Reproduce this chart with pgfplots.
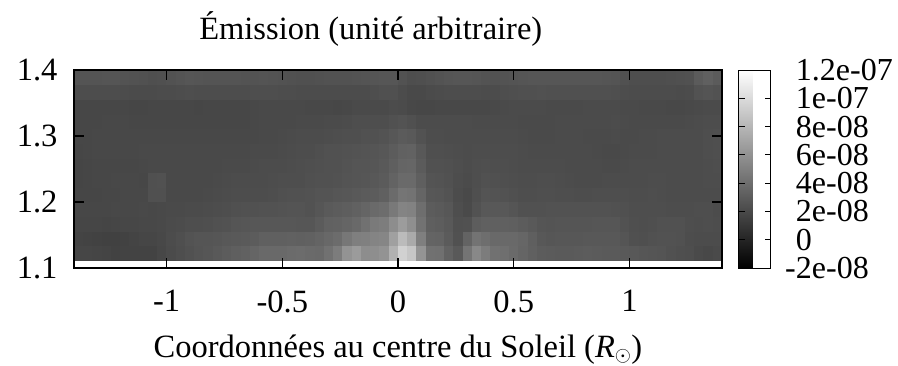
\documentclass[border=0pt]{standalone}
\usepackage{fontspec}
\setmainfont{Liberation Serif}
\usepackage{pgfplots}
\pgfplotsset{compat=1.18}
\begin{document}
\begin{tikzpicture}[x=1pt,y=1pt]
\path[use as bounding box] (-74pt,-97pt) rectangle (824pt,268pt);
\begin{axis}[
  at={(0pt,0pt)},anchor=south west,
  scale only axis,width=648pt,height=198pt,
  xmin=-1.4,xmax=1.4,ymin=1.1,ymax=1.4,
  axis on top,
  axis line style={line width=1.4pt},
  tick style={line width=1.1pt,black},
  major tick length=10pt,
  tick align=inside,
  xtick={-1,-0.5,0,0.5,1},
  xticklabels={-1,-0.5,0,0.5,1},
  ytick={1.1,1.2,1.3,1.4},
  yticklabels={1.1,1.2,1.3,1.4},
  tick label style={font=\fontsize{32.5}{32.5}\selectfont},
  xticklabel style={yshift=-19pt},
  yticklabel style={xshift=-13pt},
  label style={font=\fontsize{32.5}{32.5}\selectfont},
  title style={font=\fontsize{32.5}{32.5}\selectfont},
  title={Émission (unité arbitraire)},
  title style={at={(0.458,1)},anchor=center,yshift=35pt},
  xlabel={Coordonnées au centre du Soleil ({\itshape R}$_\odot$)},
  xlabel style={at={(0.5,0)},anchor=center,yshift=-82pt},
  colormap={bw}{gray(0cm)=(0);gray(1cm)=(0.1);gray(2cm)=(0.2);gray(3cm)=(0.3);gray(4cm)=(0.4);gray(5cm)=(0.5);gray(6cm)=(0.6);gray(7cm)=(0.7);gray(8cm)=(0.8);gray(9cm)=(0.9);gray(10cm)=(1)},
  point meta min=-2,point meta max=12,
  colorbar,
  colorbar shift/.style={xshift=16pt},
  colorbar style={
    width=32pt,
    ytick={-2,0,2,4,6,8,10,12},
    yticklabels={\llap{-}2e-08,0,2e-08,4e-08,6e-08,8e-08,1e-07,1.2e-07},
    ytick pos=both,
    yticklabel pos=right,
    tick align=inside,
    major tick length=6pt,
    tick style={line width=1pt,black},
    axis line style={line width=1pt},
    yticklabel style={anchor=west,inner sep=0pt,xshift=25pt,font=\fontsize{32}{24}\selectfont},
  },
]
\addplot[surf,shader=faceted,faceted color=mapped color,line width=0.2pt,mesh/cols=71,mesh/rows=14,point meta=explicit]
 table[row sep=crcr,header=false,meta index=0,
  x expr={-1.4+0.04*mod(\coordindex,71)},
  y expr={1.1121+0.02215*floor((\coordindex+0.5)/71)}]{
2.0\\2.0\\2.0\\2.0\\1.8\\1.8\\1.8\\1.6\\1.6\\1.6\\
2.0\\2.1\\2.2\\2.2\\2.4\\2.6\\3.0\\3.3\\3.5\\3.7\\
3.9\\3.9\\3.8\\3.9\\4.1\\4.1\\4.0\\3.9\\5.1\\5.6\\
8.0\\6.0\\5.7\\6.5\\6.8\\9.8\\10.0\\8.5\\4.7\\4.5\\
4.5\\2.8\\3.5\\6.0\\5.7\\4.5\\4.3\\4.1\\3.4\\3.3\\
3.2\\3.2\\3.0\\3.0\\3.0\\3.2\\3.2\\3.0\\3.0\\3.0\\
3.2\\3.2\\3.0\\2.8\\2.7\\2.4\\2.4\\2.3\\1.5\\2.0\\2.0\\
1.7\\1.7\\1.6\\1.6\\1.5\\1.5\\1.6\\1.7\\1.8\\1.8\\
2.1\\2.3\\2.6\\2.9\\2.9\\2.9\\3.0\\3.0\\3.0\\3.1\\
3.5\\3.7\\3.7\\3.7\\3.8\\3.7\\3.6\\3.6\\4.2\\4.4\\
6.2\\5.8\\5.4\\5.6\\5.5\\8.8\\9.4\\7.5\\3.9\\3.7\\
3.9\\2.4\\2.8\\5.2\\5.0\\4.0\\4.0\\4.0\\3.9\\3.6\\
3.0\\2.9\\2.9\\2.9\\2.9\\2.9\\2.9\\2.9\\2.9\\2.9\\
2.5\\2.4\\2.4\\2.5\\2.5\\2.3\\2.3\\2.2\\2.2\\2.1\\2.1\\
1.7\\1.8\\1.7\\1.6\\1.6\\1.7\\1.8\\1.9\\1.9\\1.9\\
2.1\\2.1\\2.3\\2.4\\2.4\\2.5\\2.6\\2.7\\2.8\\2.8\\
2.9\\2.9\\2.9\\2.9\\2.9\\2.8\\3.2\\3.5\\3.5\\3.6\\
3.9\\4.0\\4.9\\5.0\\5.3\\7.6\\7.4\\5.0\\3.4\\3.0\\
3.2\\2.5\\2.2\\3.5\\3.6\\3.5\\3.5\\3.6\\3.5\\3.5\\
2.8\\2.6\\2.6\\2.7\\2.7\\2.7\\2.8\\2.8\\2.8\\2.8\\
2.4\\2.3\\2.3\\2.5\\2.6\\2.6\\2.5\\2.0\\2.3\\2.2\\2.2\\
2.0\\1.9\\2.0\\2.0\\2.0\\2.0\\2.0\\2.0\\2.0\\2.0\\
2.1\\2.1\\2.2\\2.2\\2.2\\2.3\\2.3\\2.5\\2.6\\2.7\\
2.7\\2.7\\2.7\\2.7\\2.7\\2.5\\2.3\\3.1\\3.2\\3.3\\
3.5\\3.7\\4.2\\4.6\\4.5\\5.6\\5.7\\5.4\\3.3\\3.2\\
3.0\\2.9\\1.9\\2.3\\3.0\\3.0\\3.0\\3.0\\2.7\\2.6\\
2.6\\2.6\\2.7\\2.7\\2.6\\2.6\\2.6\\2.6\\2.6\\2.6\\
2.3\\2.3\\2.3\\2.3\\2.3\\2.3\\2.3\\2.3\\2.4\\2.3\\2.3\\
1.9\\1.8\\1.8\\1.8\\1.9\\1.9\\1.9\\2.0\\2.0\\1.9\\
2.0\\2.0\\2.0\\2.0\\2.0\\2.2\\2.2\\2.2\\2.3\\2.2\\
2.3\\2.3\\2.4\\2.5\\2.6\\2.6\\2.7\\2.7\\2.8\\2.9\\
3.0\\3.1\\3.2\\3.3\\3.6\\4.8\\4.8\\4.6\\2.9\\2.8\\
2.8\\2.4\\1.9\\2.1\\2.7\\2.7\\2.7\\2.6\\2.3\\2.3\\
2.3\\2.4\\2.3\\2.3\\2.4\\2.4\\2.4\\2.4\\2.4\\2.3\\
2.3\\2.2\\2.3\\2.3\\2.2\\2.2\\2.2\\2.1\\2.3\\2.1\\2.1\\
1.8\\1.8\\1.9\\1.9\\1.9\\2.0\\2.0\\2.0\\1.9\\3.7\\
2.0\\2.0\\2.0\\2.0\\2.0\\2.0\\2.1\\2.2\\2.2\\2.3\\
2.2\\2.2\\2.3\\2.3\\2.3\\2.3\\2.5\\2.5\\2.5\\2.6\\
2.7\\2.7\\2.9\\2.9\\3.2\\4.0\\4.0\\3.9\\2.7\\2.7\\
2.6\\2.4\\2.0\\2.0\\2.5\\2.5\\2.4\\2.4\\2.3\\2.3\\
2.3\\2.4\\2.3\\2.3\\2.1\\2.1\\2.1\\2.2\\2.2\\2.3\\
2.2\\2.2\\2.2\\2.3\\2.2\\2.2\\2.2\\2.2\\2.2\\2.2\\2.2\\
1.8\\1.8\\1.9\\1.9\\1.9\\2.0\\1.9\\1.9\\1.9\\2.1\\
2.0\\2.0\\2.0\\2.0\\2.0\\2.0\\2.1\\2.1\\2.1\\2.1\\
2.2\\2.2\\2.2\\2.3\\2.3\\2.3\\2.4\\2.4\\2.4\\2.5\\
2.6\\2.6\\2.7\\2.8\\3.0\\3.6\\3.8\\3.7\\2.5\\2.5\\
2.4\\2.3\\2.2\\2.2\\2.4\\2.4\\2.3\\2.3\\2.2\\2.2\\
2.2\\2.2\\2.2\\2.2\\2.1\\2.1\\2.1\\2.1\\2.1\\2.1\\
2.2\\2.2\\2.2\\2.2\\2.2\\2.2\\2.2\\2.2\\2.2\\2.3\\2.3\\
1.8\\1.8\\1.9\\1.9\\1.9\\1.9\\1.9\\2.0\\2.0\\2.0\\
2.0\\2.0\\2.0\\2.0\\2.0\\2.0\\2.0\\2.0\\2.0\\2.1\\
2.1\\2.1\\2.1\\2.2\\2.2\\2.3\\2.3\\2.5\\2.5\\2.5\\
2.7\\2.7\\2.7\\2.8\\2.9\\3.4\\3.5\\3.5\\2.4\\2.4\\
2.4\\2.4\\2.2\\2.2\\2.3\\2.2\\2.3\\2.3\\2.2\\2.2\\
2.1\\2.1\\2.1\\2.1\\2.1\\2.2\\2.1\\2.1\\2.0\\2.0\\
2.1\\2.1\\2.1\\2.1\\2.1\\2.1\\2.2\\2.2\\2.2\\2.3\\2.3\\
1.9\\1.9\\2.0\\2.0\\2.0\\2.0\\2.0\\2.0\\2.0\\2.0\\
2.0\\2.0\\2.0\\2.0\\2.0\\2.0\\2.0\\2.0\\2.0\\2.0\\
2.0\\2.0\\2.1\\2.1\\2.2\\2.2\\2.2\\2.3\\2.4\\2.4\\
2.4\\2.5\\2.6\\2.6\\2.8\\3.1\\3.3\\3.2\\2.3\\2.3\\
2.2\\2.2\\2.2\\2.2\\2.2\\2.2\\2.2\\2.2\\2.2\\2.1\\
2.1\\2.1\\2.1\\2.1\\2.1\\2.1\\2.0\\2.0\\2.0\\2.0\\
2.1\\2.1\\2.1\\2.2\\2.2\\2.2\\2.2\\2.2\\2.2\\2.4\\2.4\\
1.9\\1.9\\1.9\\1.9\\1.9\\1.9\\1.9\\1.9\\1.9\\1.9\\
1.9\\1.9\\1.9\\1.9\\1.9\\1.9\\1.9\\1.9\\1.9\\1.9\\
2.0\\2.0\\2.0\\2.0\\2.1\\2.1\\2.1\\2.1\\2.1\\2.3\\
2.2\\2.3\\2.3\\2.4\\2.5\\2.7\\2.8\\2.3\\2.2\\2.2\\
2.2\\2.2\\2.2\\2.2\\2.1\\2.1\\2.1\\2.1\\2.1\\2.0\\
2.0\\2.0\\2.1\\2.1\\2.1\\2.1\\2.1\\2.1\\2.2\\2.2\\
2.0\\2.1\\2.1\\2.1\\2.1\\2.1\\2.1\\2.1\\2.2\\2.3\\2.3\\
1.8\\1.9\\1.9\\2.0\\2.0\\2.0\\2.0\\1.9\\1.9\\1.9\\
1.9\\1.9\\1.9\\1.9\\1.9\\1.9\\1.9\\1.9\\1.9\\1.9\\
2.0\\2.0\\2.0\\2.0\\2.0\\2.0\\2.0\\2.1\\2.1\\2.0\\
2.3\\2.3\\2.3\\2.1\\2.2\\2.4\\2.3\\2.1\\2.1\\2.1\\
2.1\\2.1\\2.1\\2.1\\2.1\\2.1\\2.1\\2.1\\2.1\\2.1\\
2.1\\2.1\\2.1\\2.1\\2.1\\2.1\\2.2\\2.1\\2.1\\2.1\\
2.1\\2.1\\2.0\\2.0\\2.0\\2.0\\2.1\\2.1\\2.2\\2.2\\2.2\\
1.9\\1.9\\1.9\\1.9\\1.8\\1.8\\1.7\\1.8\\1.8\\1.9\\
1.9\\1.9\\1.9\\1.8\\1.8\\1.9\\1.9\\1.9\\1.9\\2.0\\
2.0\\2.0\\2.0\\2.0\\2.0\\2.0\\1.9\\1.9\\1.8\\1.8\\
1.8\\1.8\\1.8\\2.0\\2.0\\2.0\\1.7\\1.7\\1.7\\1.8\\
1.8\\1.8\\1.8\\1.8\\1.8\\1.8\\2.0\\2.1\\2.1\\2.1\\
2.1\\2.1\\2.0\\2.1\\2.0\\2.1\\2.1\\2.1\\2.1\\2.1\\
2.0\\2.0\\2.0\\2.0\\2.0\\1.9\\1.8\\2.0\\2.0\\2.0\\2.0\\
2.6\\2.6\\2.6\\2.6\\2.7\\2.6\\2.5\\2.5\\2.4\\2.3\\
2.5\\2.5\\2.7\\2.7\\2.6\\2.6\\2.6\\2.6\\2.6\\2.5\\
2.6\\2.6\\2.5\\2.5\\2.4\\2.4\\2.4\\2.5\\2.5\\2.5\\
2.5\\2.6\\2.6\\2.7\\2.8\\2.7\\2.3\\2.3\\2.4\\2.5\\
2.6\\2.7\\2.7\\2.7\\2.6\\2.5\\2.5\\2.6\\2.6\\2.7\\
2.7\\2.8\\2.7\\2.8\\2.7\\2.7\\2.7\\2.7\\2.6\\2.6\\
2.3\\2.3\\2.3\\2.3\\2.3\\2.4\\2.4\\2.5\\3.5\\3.0\\3.0\\
2.6\\2.6\\2.6\\2.6\\2.7\\2.6\\2.5\\2.5\\2.4\\2.3\\
2.5\\2.5\\2.7\\2.7\\2.6\\2.6\\2.6\\2.6\\2.6\\2.5\\
2.6\\2.6\\2.5\\2.5\\2.4\\2.4\\2.4\\2.5\\2.5\\2.5\\
2.5\\2.6\\2.6\\2.7\\2.8\\2.7\\2.3\\2.3\\2.4\\2.5\\
2.6\\2.7\\2.7\\2.7\\2.6\\2.5\\2.5\\2.6\\2.6\\2.7\\
2.7\\2.8\\2.7\\2.8\\2.7\\2.7\\2.7\\2.7\\2.6\\2.6\\
2.3\\2.3\\2.3\\2.3\\2.3\\2.4\\2.4\\2.5\\3.5\\3.0\\3.0\\
};
\end{axis}
\end{tikzpicture}
\end{document}
